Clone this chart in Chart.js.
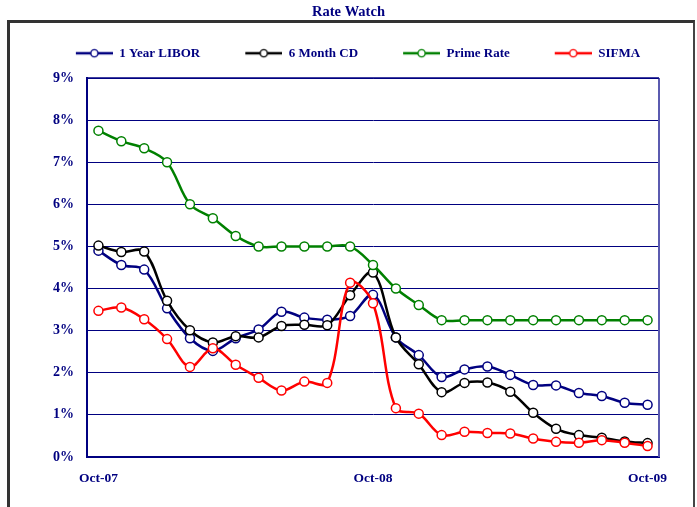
<!DOCTYPE html>
<html><head><meta charset="utf-8">
<script src="https://cdn.jsdelivr.net/npm/chart.js@4/dist/chart.umd.min.js"></script>
<style>
html,body{margin:0;padding:0;background:#fff;overflow:hidden}
#wrap{position:relative;width:697px;height:507px}
#frame{position:absolute;left:7px;top:20px;width:683px;height:500px;border-left:3px solid #333;border-top:3px solid #333;border-right:2px solid #444;}
canvas{position:absolute;left:0;top:0}
</style></head>
<body><div id="wrap"><div id="frame"></div><canvas id="c" width="697" height="507"></canvas></div>
<script>
const months = ['Oct-07','Nov-07','Dec-07','Jan-08','Feb-08','Mar-08','Apr-08','May-08','Jun-08','Jul-08','Aug-08','Sep-08',
  'Oct-08','Nov-08','Dec-08','Jan-09','Feb-09','Mar-09','Apr-09','May-09','Jun-09','Jul-09','Aug-09','Sep-09','Oct-09'];
const tickLabels = ['Oct-07','Oct-08','Oct-09'];
const seriesNames = ['1 Year LIBOR','6 Month CD','Prime Rate','SIFMA'];
const libor = [4.90,4.56,4.45,3.53,2.82,2.52,2.82,3.03,3.45,3.31,3.26,3.35,3.85,2.84,2.42,1.90,2.08,2.15,1.95,1.71,1.70,1.52,1.45,1.29,1.24];
const cd6m  = [5.02,4.87,4.88,3.71,3.01,2.72,2.87,2.84,3.11,3.14,3.13,3.84,4.38,2.84,2.20,1.54,1.76,1.77,1.55,1.05,0.67,0.52,0.46,0.37,0.33];
const prime = [7.75,7.50,7.33,7.00,6.00,5.67,5.25,5.00,5.00,5.00,5.00,5.00,4.56,4.00,3.61,3.25,3.25,3.25,3.25,3.25,3.25,3.25,3.25,3.25,3.25];
const sifma = [3.47,3.55,3.27,2.80,2.14,2.58,2.19,1.88,1.58,1.79,1.76,4.14,3.65,1.16,1.03,0.52,0.60,0.57,0.56,0.44,0.36,0.34,0.40,0.34,0.26];
const yTicks = [0,1,2,3,4,5,6,7,8,9];

const colors = ['#000080','#000000','#008000','#ff0000'];
const FONT = "'Liberation Serif','Times New Roman',serif";
const NAVY = '#000080';
const LPAD = 19;

function legendImg(color){
  const c = document.createElement('canvas');
  c.width = LPAD + 37; c.height = 12;
  const g = c.getContext('2d');
  g.strokeStyle = color; g.lineWidth = 2.5;
  g.beginPath(); g.moveTo(LPAD, 6); g.lineTo(LPAD + 37, 6); g.stroke();
  g.beginPath(); g.arc(LPAD + 18.5, 6, 3.6, 0, 2 * Math.PI);
  g.fillStyle = '#fff'; g.fill(); g.lineWidth = 1.4; g.stroke();
  return c;
}
const legendImgs = colors.map(legendImg);

const legendHeight = {
  id: 'legendHeight',
  afterInit(chart){
    const lg = chart.legend;
    if (!lg) return;
    const orig = lg.fit;
    lg.fit = function(){ orig.call(this); this.height = 57.3; };
  }
};
const plotBorder = {
  id: 'plotBorder',
  beforeDatasetsDraw(chart){
    const {ctx, chartArea: a} = chart;
    ctx.save();
    ctx.strokeStyle = '#5b5bb0'; ctx.lineWidth = 2;
    ctx.beginPath(); ctx.moveTo(a.right, a.top); ctx.lineTo(a.right, a.bottom); ctx.stroke();
    ctx.strokeStyle = NAVY; ctx.lineWidth = 1.5;
    ctx.beginPath(); ctx.moveTo(a.left, a.top); ctx.lineTo(a.right, a.top); ctx.stroke();
    ctx.restore();
  }
};

const dataArrays = [libor, cd6m, prime, sifma];
const orders = [3, 2, 1, 0];
const datasets = dataArrays.map((d, i) => ({
  label: seriesNames[i],
  data: d,
  borderColor: colors[i],
  backgroundColor: '#ffffff',
  borderWidth: 2.5,
  pointRadius: 4.5,
  pointBorderWidth: 1.5,
  pointBackgroundColor: '#ffffff',
  pointBorderColor: colors[i],
  tension: 0.35,
  order: orders[i],
  fill: false
}));

new Chart(document.getElementById('c'), {
  type: 'line',
  data: { labels: months, datasets },
  plugins: [legendHeight, plotBorder],
  options: {
    responsive: false,
    animation: false,
    layout: { padding: 0 },
    plugins: {
      tooltip: { enabled: false },
      title: {
        display: true, text: 'Rate Watch', color: NAVY,
        font: { family: FONT, size: 14.5, weight: 'bold' },
        padding: { top: 3.3, bottom: 0 }
      },
      legend: {
        display: true,
        labels: {
          color: NAVY,
          font: { family: FONT, size: 13, weight: 'bold' },
          usePointStyle: true,
          pointStyleWidth: LPAD + 37,
          padding: 26,
          sort: (a, b) => a.datasetIndex - b.datasetIndex,
          generateLabels(chart){
            return Chart.defaults.plugins.legend.labels.generateLabels(chart)
              .map(l => Object.assign(l, { pointStyle: legendImgs[l.datasetIndex] }));
          }
        }
      }
    },
    scales: {
      x: {
        type: 'category',
        offset: true,
        grid: { display: false, drawTicks: false },
        border: { display: true, color: NAVY, width: 2 },
        ticks: {
          autoSkip: false, maxRotation: 0, padding: 13, color: NAVY,
          font: { family: FONT, size: 13.5, weight: 'bold' },
          callback(v, i){ const l = months[i]; return tickLabels.includes(l) ? l : ''; }
        },
        afterFit(s){ s.height = 50; }
      },
      y: {
        min: 0, max: 9,
        grid: { color: NAVY, lineWidth: 1, drawTicks: false },
        border: { display: true, color: NAVY, width: 2 },
        ticks: {
          stepSize: 1, padding: 13, color: NAVY,
          font: { family: FONT, size: 14, weight: 'bold' },
          callback(v){ return yTicks.includes(v) ? v + '%' : ''; }
        },
        afterFit(s){ s.width = 87; }
      },
      y1: {
        position: 'right', display: true,
        grid: { display: false, drawTicks: false },
        border: { display: false },
        ticks: { display: false },
        afterFit(s){ s.width = 38; }
      }
    }
  }
});
</script>
</body></html>
